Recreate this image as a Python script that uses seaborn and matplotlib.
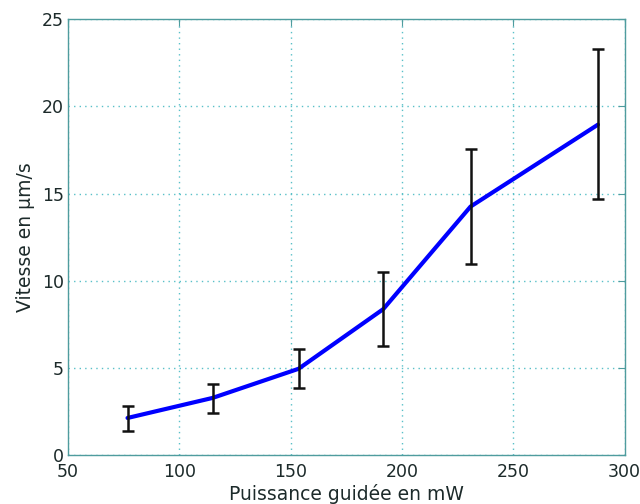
import matplotlib
matplotlib.use("Agg")
import matplotlib.pyplot as plt
import numpy as np
import pandas as pd
import seaborn as sns

# Guided power (mW) and measured speed (um/s) with error bar limits
POWER_MW = [76.8, 115.0, 153.6, 191.6, 230.8, 288.0]
SPEED = [2.13, 3.28, 4.95, 8.37, 14.25, 18.95]
SPEED_LOW = [1.37, 2.44, 3.82, 6.23, 10.96, 14.7]
SPEED_HIGH = [2.84, 4.10, 6.11, 10.52, 17.57, 23.28]

X_TICKS = [50, 100, 150, 200, 250, 300]
Y_TICKS = [0, 5, 10, 15, 20, 25]

AXIS_COLOR = "#4f9c9e"
GRID_COLOR = "#58c0c8"
TEXT_COLOR = "#1c2a2a"

sns.set_style("whitegrid")
plt.rcParams["font.family"] = ["DejaVu Sans"]

df = pd.DataFrame({"power": POWER_MW, "speed": SPEED,
                   "low": SPEED_LOW, "high": SPEED_HIGH})

fig = plt.figure(figsize=(6.4, 5.04), dpi=100)
ax = fig.add_axes([0.106, 0.097, 0.870, 0.865])

sns.lineplot(data=df, x="power", y="speed", ax=ax, color="#0000ff",
             linewidth=3, zorder=3)
yerr = np.vstack([df["speed"] - df["low"], df["high"] - df["speed"]])
ax.errorbar(df["power"], df["speed"], yerr=yerr, fmt="none", ecolor="#111111",
            elinewidth=1.8, capsize=4, capthick=1.8, zorder=4)

ax.set_xlim(50, 300)
ax.set_ylim(0, 25)
ax.set_xticks(X_TICKS)
ax.set_yticks(Y_TICKS)
ax.grid(True, linestyle=(0, (1, 3)), color=GRID_COLOR, linewidth=1.0)
for s in ax.spines.values():
    s.set_visible(True)
    s.set_color(AXIS_COLOR)
    s.set_linewidth(1.0)
ax.tick_params(direction="in", length=5, width=0.8, color=AXIS_COLOR,
               top=True, right=True, labelsize=12.5, labelcolor=TEXT_COLOR)
ax.tick_params(axis="x", pad=6)
ax.tick_params(axis="y", pad=3)

ax.set_xlabel("Puissance guidée en mW", fontsize=13.5, color=TEXT_COLOR, labelpad=2)
ax.set_ylabel("Vitesse en µm/s", fontsize=13.5, color=TEXT_COLOR, labelpad=5)

fig.savefig("out.png", dpi=100)
